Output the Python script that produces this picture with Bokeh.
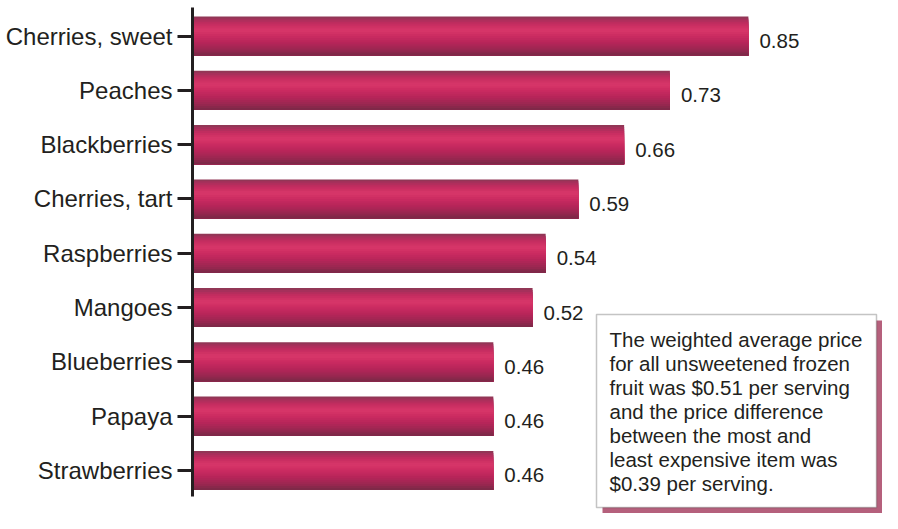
from bokeh.plotting import figure
from bokeh.models import ColumnDataSource, Range1d, FixedTicker, BoxAnnotation
from bokeh.transform import dodge
from bokeh.core.properties import value
from bokeh.embed import file_html
from bokeh.resources import INLINE

# ---------------- data ----------------
categories = ["Cherries, sweet", "Peaches", "Blackberries", "Cherries, tart",
              "Raspberries", "Mangoes", "Blueberries", "Papaya", "Strawberries"]
prices = [0.85, 0.73, 0.66, 0.59, 0.54, 0.52, 0.46, 0.46, 0.46]
note_lines = [
    "The weighted average price",
    "for all unsweetened frozen",
    "fruit was $0.51 per serving",
    "and the price difference",
    "between the most and",
    "least expensive item was",
    "$0.39 per serving.",
]

# ---------------- layout helpers ----------------
W, H = 882, 513
LEFT = 192            # frame left (canvas px)
TOP = 7               # frame top (canvas px)
PX_Y = 54.31          # px per category slot
PX_X = 654.0          # px per dollar
n = len(categories)
Y_TOP = (n - 1) + (35.5 - TOP) / PX_Y
Y_BOT = Y_TOP - (H - TOP) / PX_Y
X_END = (W - LEFT) / PX_X

def ydat(cy):  # canvas y (px from top) -> data y
    return Y_TOP - (cy - TOP) / PX_Y

def xdat(cx):  # canvas x -> data x
    return (cx - LEFT) / PX_X

ypos = [n - 1 - i for i in range(n)]
src = ColumnDataSource(dict(y=ypos, v=prices, cat=categories,
                            lbl=[f"{v:.2f}" for v in prices]))

FONT = value("Liberation Sans")
INK = "#231f20"

p = figure(width=W, height=H, output_backend="svg", toolbar_location=None,
           x_range=Range1d(0, X_END), y_range=Range1d(Y_BOT, Y_TOP),
           x_axis_location=None, min_border_left=LEFT, min_border_right=0,
           min_border_top=TOP, min_border_bottom=0, outline_line_color=None,
           background_fill_color="white", border_fill_color="white")
p.grid.grid_line_color = None

# ---------------- gradient bars ----------------
stops = [(0.00, (0x86, 0x3a, 0x54)), (0.06, (0xa2, 0x30, 0x5a)),
         (0.20, (0xc6, 0x2c, 0x60)), (0.35, (0xd8, 0x37, 0x69)),
         (0.50, (0xcb, 0x2b, 0x61)), (0.68, (0xb5, 0x25, 0x59)),
         (0.86, (0x98, 0x27, 0x50)), (1.00, (0x78, 0x29, 0x46))]

def grad(t):
    for (t0, c0), (t1, c1) in zip(stops[:-1], stops[1:]):
        if t0 <= t <= t1:
            f = (t - t0) / (t1 - t0)
            return "#%02x%02x%02x" % tuple(int(round(a + (b - a) * f)) for a, b in zip(c0, c1))
    return "#%02x%02x%02x" % stops[-1][1]

BAR_H = 0.72
NS = 20
for i in range(NS):
    t_top = i / NS
    hgt = (1 - t_top) * BAR_H
    off = BAR_H / 2 - t_top * BAR_H - hgt / 2
    p.hbar(y=dodge("y", off), left=0, right="v", height=hgt,
           source=src, fill_color=grad((i + 0.5) / NS), line_color=None)

# value labels
p.text(x="v", y="y", text="lbl", source=src, x_offset=11, y_offset=5,
       text_baseline="middle", text_align="left", text_font=FONT,
       text_font_size="20.5px", text_color=INK)

# ---------------- axis ----------------
ax = p.yaxis[0]
ax.ticker = FixedTicker(ticks=ypos)
ax.major_label_overrides = {y: c for y, c in zip(ypos, categories)}
ax.bounds = (ydat(496), Y_TOP)
ax.axis_line_width = 3
ax.axis_line_color = INK
ax.major_tick_line_width = 3
ax.major_tick_line_color = INK
ax.major_tick_out = 15
ax.major_tick_in = 0
ax.minor_tick_line_color = None
ax.major_label_standoff = 5
ax.major_label_text_font = "Liberation Sans"
ax.major_label_text_font_size = "24px"
ax.major_label_text_color = INK

# ---------------- note box ----------------
bx0, bx1, by0, by1 = 596, 876, 314, 507   # canvas px
SH = 6
p.add_layout(BoxAnnotation(left=xdat(bx0 + SH), right=xdat(bx1 + SH),
                           top=ydat(by0 + SH), bottom=ydat(by1 + SH),
                           fill_color="#b5607c", fill_alpha=1, line_color=None))
p.add_layout(BoxAnnotation(left=xdat(bx0), right=xdat(bx1),
                           top=ydat(by0), bottom=ydat(by1),
                           fill_color="white", fill_alpha=1,
                           line_color="#3a3a3a", line_width=1.5))
note_src = ColumnDataSource(dict(
    x=[xdat(bx0 + 13)] * len(note_lines),
    y=[ydat(by0 + 25 + 24 * k) for k in range(len(note_lines))],
    t=note_lines))
r = p.text(x="x", y="y", text="t", source=note_src, text_baseline="alphabetic",
           text_align="left", text_font=FONT, text_font_size="20.5px",
           text_color=INK)
r.level = "overlay"

open("out.html", "w").write(file_html(p, INLINE))
